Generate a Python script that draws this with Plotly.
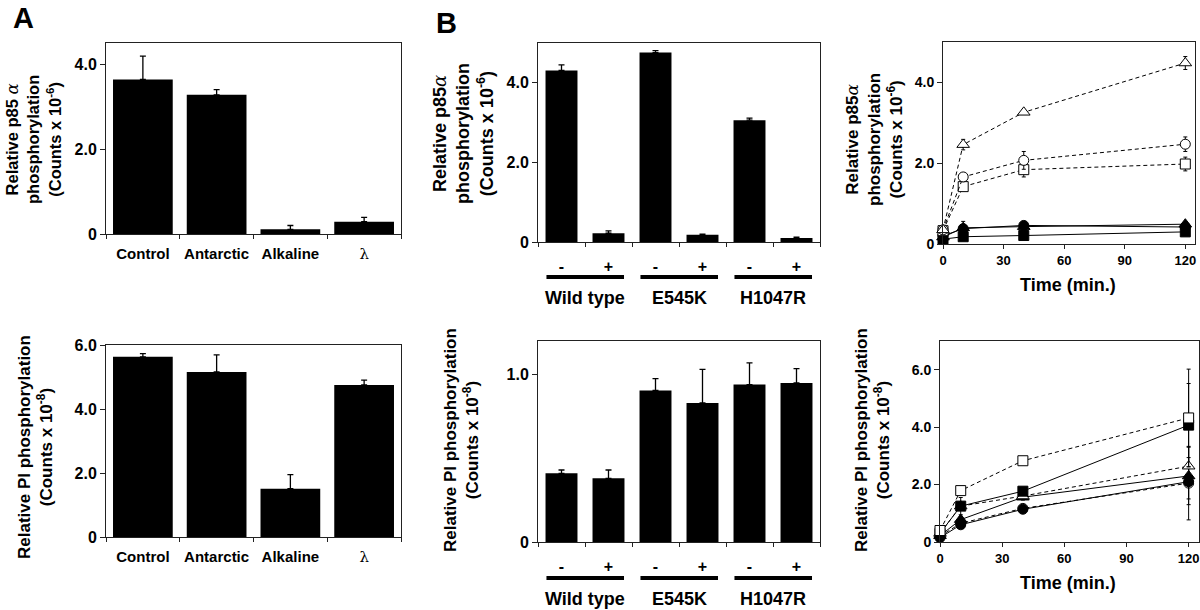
import plotly.graph_objects as go

W, H = 1200, 610
FONT = "Arial, Liberation Sans, Helvetica, sans-serif"

# ---------------- Panel A data ----------------
a_categories = ["Control", "Antarctic", "Alkaline", "lambda"]
a_tick_text = ["Control", "Antarctic", "Alkaline",
               "<span style='font-family:DejaVu Serif;font-weight:normal'>λ</span>"]
a_p85_values = [3.64, 3.28, 0.11, 0.29]
a_p85_errors = [0.55, 0.12, 0.09, 0.10]
a_pi_values = [5.63, 5.16, 1.51, 4.75]
a_pi_errors = [0.10, 0.53, 0.44, 0.15]

# ---------------- Panel B bar data ----------------
b_categories = ["WT-", "WT+", "E545K-", "E545K+", "H1047R-", "H1047R+"]
b_tick_text = ["-", "+", "-", "+", "-", "+"]
b_groups = ["Wild type", "E545K", "H1047R"]
b_p85_values = [4.31, 0.22, 4.76, 0.18, 3.06, 0.10]
b_p85_errors = [0.14, 0.06, 0.05, 0.02, 0.05, 0.02]
b_pi_values = [0.41, 0.38, 0.905, 0.83, 0.94, 0.95]
b_pi_errors = [0.02, 0.05, 0.07, 0.20, 0.13, 0.085]

# ---------------- Time courses ----------------
time_min = [0, 10, 40, 120]

p85_open_triangle = [0.35, 2.46, 3.26, 4.48]
p85_open_triangle_err = [0.04, 0.13, 0.05, 0.16]
p85_open_circle = [0.35, 1.66, 2.07, 2.47]
p85_open_circle_err = [0.04, 0.06, 0.22, 0.18]
p85_open_square = [0.33, 1.42, 1.84, 1.98]
p85_open_square_err = [0.04, 0.06, 0.18, 0.17]
p85_filled_triangle = [0.17, 0.40, 0.43, 0.49]
p85_filled_triangle_err = [0.03, 0.16, 0.04, 0.05]
p85_filled_circle = [0.20, 0.38, 0.46, 0.42]
p85_filled_circle_err = [0.03, 0.05, 0.04, 0.04]
p85_filled_square = [0.12, 0.18, 0.21, 0.30]
p85_filled_square_err = [0.02, 0.03, 0.03, 0.03]

pi_open_square = [0.40, 1.79, 2.83, 4.32]
pi_open_square_err = [0.05, 0.10, 0.12, 1.70]
pi_filled_square = [0.30, 1.25, 1.77, 4.07]
pi_filled_square_err = [0.05, 0.30, 0.10, 1.45]
pi_open_triangle = [0.30, 1.25, 1.60, 2.64]
pi_open_triangle_err = [0.05, 0.10, 0.10, 0.30]
pi_filled_triangle = [0.22, 0.78, 1.56, 2.30]
pi_filled_triangle_err = [0.05, 0.10, 0.10, 1.00]
pi_filled_circle = [0.15, 0.60, 1.14, 2.10]
pi_filled_circle_err = [0.05, 0.05, 0.08, 0.60]
pi_open_circle = [0.20, 0.65, 1.17, 2.05]
pi_open_circle_err = [0.05, 0.05, 0.08, 1.28]

# ---------------- helpers (window pixels -> paper fractions) ----------------
def px_x(a, b):
    return [max(0.0, a / W), min(1.0, b / W)]

def px_y(top, bottom):
    return [max(0.0, 1 - bottom / H), min(1.0, 1 - top / H)]

def py(y):
    return 1 - y / H

fig = go.Figure()

def bar(xname, yname, cats, vals, errs, width):
    fig.add_trace(go.Bar(
        x=cats, y=vals, xaxis=xname, yaxis=yname, width=width,
        marker=dict(color="black", line=dict(width=0)),
        error_y=dict(type="data", array=errs, arrayminus=[0] * len(errs),
                     symmetric=False, color="black", thickness=1.3, width=3),
        showlegend=False, hoverinfo="x+y"))

bar("x", "y", a_categories, a_p85_values, a_p85_errors, 0.81)
bar("x2", "y2", a_categories, a_pi_values, a_pi_errors, 0.81)
bar("x3", "y3", b_categories, b_p85_values, b_p85_errors, 0.68)
bar("x4", "y4", b_categories, b_pi_values, b_pi_errors, 0.68)

def line(xname, yname, vals, errs, symbol, filled, dashed):
    fig.add_trace(go.Scatter(
        x=time_min, y=vals, xaxis=xname, yaxis=yname, mode="lines+markers",
        line=dict(color="black", width=1, dash="4px,3px" if dashed else "solid"),
        marker=dict(symbol=symbol, size=10 if symbol != "triangle-up" else 11,
                    color="black" if filled else "white",
                    line=dict(color="black", width=1)),
        error_y=dict(type="data", array=errs, color="black", thickness=1, width=2),
        cliponaxis=False, showlegend=False))

line("x5", "y5", p85_filled_square, p85_filled_square_err, "square", True, False)
line("x5", "y5", p85_filled_circle, p85_filled_circle_err, "circle", True, False)
line("x5", "y5", p85_filled_triangle, p85_filled_triangle_err, "triangle-up", True, False)
line("x5", "y5", p85_open_square, p85_open_square_err, "square", False, True)
line("x5", "y5", p85_open_circle, p85_open_circle_err, "circle", False, True)
line("x5", "y5", p85_open_triangle, p85_open_triangle_err, "triangle-up", False, True)

line("x6", "y6", pi_open_circle, pi_open_circle_err, "circle", False, True)
line("x6", "y6", pi_filled_circle, pi_filled_circle_err, "circle", True, False)
line("x6", "y6", pi_filled_triangle, pi_filled_triangle_err, "triangle-up", True, False)
line("x6", "y6", pi_open_triangle, pi_open_triangle_err, "triangle-up", False, True)
line("x6", "y6", pi_filled_square, pi_filled_square_err, "square", True, False)
line("x6", "y6", pi_open_square, pi_open_square_err, "square", False, True)

LC = "#222"
def xcat(dom, anchor, cats, ticktext, size, standoff):
    return dict(domain=dom, anchor=anchor, type="category", categoryorder="array",
                categoryarray=cats, tickmode="array", tickvals=cats, ticktext=ticktext,
                tickson="boundaries", ticks="outside", ticklen=4, tickcolor=LC,
                tickangle=0, automargin=False,
                showline=True, linecolor=LC, linewidth=1, mirror=True,
                showgrid=False, zeroline=False, ticklabelstandoff=standoff,
                tickfont=dict(family=FONT, size=size, color="black", weight="bold"),
                fixedrange=True)

def ynum(dom, anchor, rng, tv, tt, size):
    return dict(domain=dom, anchor=anchor, range=rng, tickmode="array",
                tickvals=tv, ticktext=tt, ticks="outside", ticklen=5, tickcolor=LC,
                automargin=False,
                showline=True, linecolor=LC, linewidth=1, mirror=True,
                showgrid=False, zeroline=False,
                tickfont=dict(family=FONT, size=size, color="black", weight="bold"))

def xnum(dom, anchor, xmax, size):
    return dict(domain=dom, anchor=anchor, range=[0, xmax], tickmode="array",
                tickvals=[0, 30, 60, 90, 120], ticktext=["0", "30", "60", "90", "120"],
                ticks="outside", ticklen=4, tickcolor=LC, tickangle=0, automargin=False,
                showline=True, linecolor=LC, linewidth=1, mirror=True,
                showgrid=False, zeroline=False,
                tickfont=dict(family=FONT, size=size, color="black", weight="bold"))

fig.update_layout(
    template="none",
    width=W, height=H, margin=dict(l=0, r=0, t=0, b=0, autoexpand=False),
    paper_bgcolor="white", plot_bgcolor="white", bargap=0.19,
    font=dict(family=FONT, color="black"),
    xaxis=xcat(px_x(106, 401), "y", a_categories, a_tick_text, 15, 6),
    yaxis=ynum(px_y(43, 234), "x", [0, 4.5], [0, 2, 4], ["0", "2.0", "4.0"], 16),
    xaxis2=xcat(px_x(106, 401), "y2", a_categories, a_tick_text, 15, 6),
    yaxis2=ynum(px_y(345, 537), "x2", [0, 6], [0, 2, 4, 6], ["0", "2.0", "4.0", "6.0"], 16),
    xaxis3=xcat(px_x(538, 820), "y3", b_categories, b_tick_text, 16, 10),
    yaxis3=ynum(px_y(43, 242), "x3", [0, 5], [0, 2, 4], ["0", "2.0", "4.0"], 16),
    xaxis4=xcat(px_x(538, 820), "y4", b_categories, b_tick_text, 16, 10),
    yaxis4=ynum(px_y(341, 542), "x4", [0, 1.2], [0, 1], ["0", "1.0"], 16),
    xaxis5=xnum(px_x(943, 1195), "y5", 124.8, 13),
    yaxis5=ynum(px_y(42, 244), "x5", [0, 5], [0, 2, 4], ["0", "2.0", "4.0"], 14),
    xaxis6=xnum(px_x(940, 1199), "y6", 125, 13),
    yaxis6=ynum(px_y(341, 542), "x6", [0, 7], [0, 2, 4, 6], ["0", "2.0", "4.0", "6.0"], 14),
)

ann = []
def txt(x, y, text, size, angle=0):
    ann.append(dict(x=x / W, y=py(y), xref="paper", yref="paper",
                    text=text, showarrow=False, textangle=angle,
                    font=dict(family=FONT, size=size, color="black", weight="bold"),
                    xanchor="center", yanchor="middle"))

alpha = "<span style='font-family:DejaVu Serif;font-weight:normal;font-style:italic'>α</span>"
txt(23, 18, "A", 29)
txt(446, 23, "B", 29)
txt(33, 140, "Relative p85 " + alpha + "<br>phosphorylation<br>(Counts x 10<sup>-6</sup>)", 16.5, -90)
txt(35, 447, "Relative PI phosphorylation<br>(Counts x 10<sup>-8</sup>)", 17, -90)
txt(463, 133, "Relative p85" + alpha + "<br>phosphorylation<br>(Counts x 10<sup>-6</sup>)", 18, -90)
txt(461, 440, "Relative PI phosphorylation<br>(Counts x 10<sup>-8</sup>)", 17, -90)
txt(874, 140, "Relative p85" + alpha + "<br>phosphorylation<br>(Counts x 10<sup>-6</sup>)", 17, -90)
txt(872, 440, "Relative PI phosphorylation<br>(Counts x 10<sup>-8</sup>)", 17, -90)
txt(1068, 285, "Time (min.)", 18)
txt(1068, 583, "Time (min.)", 18)

# group labels & thick bars under panel B bar charts
for xa, ylab, ybar in (("x3", 298, 277), ("x4", 599, 578)):
    for g, name in enumerate(b_groups):
        start = 2 * g
        ann.append(dict(x=start + 0.5, y=py(ylab), xref=xa, yref="paper", text=name,
                        showarrow=False, xanchor="center", yanchor="middle",
                        font=dict(family=FONT, size=18, color="black", weight="bold")))
        fig.add_shape(type="line", xref=xa, yref="paper", x0=start - 0.32, x1=start + 1.33,
                      y0=py(ybar), y1=py(ybar), line=dict(color="black", width=4))

fig.update_layout(annotations=ann)
# remove the default 8px page margin so the 1200x610 figure fills the window exactly
fig.write_html("out.html", config={"displayModeBar": False},
               post_script="document.body.style.margin='0';document.body.style.overflow='hidden';")
